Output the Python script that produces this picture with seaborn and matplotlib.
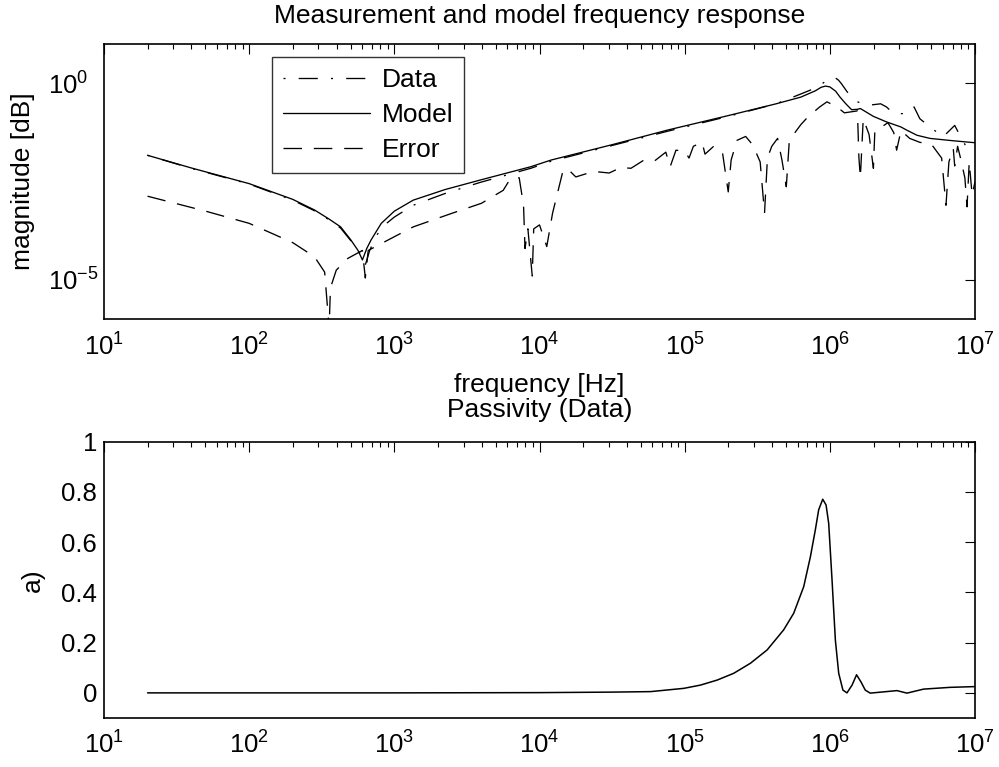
import numpy as np
import pandas as pd
import matplotlib
matplotlib.use("Agg")
import matplotlib.pyplot as plt
import matplotlib.ticker as mticker
import seaborn as sns

# ---------------- data ----------------
# top panel: log10(frequency [Hz]) and log10(magnitude)
model_logf = [1.30, 1.60, 2.00, 2.30, 2.45, 2.55, 2.63, 2.70, 2.75, 2.78, 2.81, 2.84, 2.91, 3.00,
              3.13, 3.35, 3.59, 3.94, 4.08, 4.50, 4.88, 5.30, 5.63, 5.80, 5.90, 5.94, 5.97, 6.00,
              6.04, 6.07, 6.11, 6.15, 6.19, 6.21, 6.30, 6.39, 6.49, 6.53, 6.60, 6.69, 6.85, 7.00]
model_logm = [-1.83, -2.15, -2.55, -2.95, -3.22, -3.45, -3.65, -3.98, -4.25, -4.49, -4.20, -3.98, -3.56, -3.25,
              -2.97, -2.70, -2.46, -2.12, -1.95, -1.56, -1.19, -0.82, -0.52, -0.35, -0.19, -0.10, -0.07, -0.09,
              -0.20, -0.35, -0.52, -0.67, -0.66, -0.64, -0.84, -0.98, -1.11, -1.19, -1.32, -1.40, -1.46, -1.51]

data_logf = [1.30, 1.60, 2.00, 2.30, 2.45, 2.55, 2.63, 2.70, 2.76, 2.80, 2.83, 2.88, 2.95, 3.00,
             3.13, 3.35, 3.59, 3.94, 4.08, 4.50, 4.88, 5.30, 5.63, 5.80, 5.90, 5.95, 6.00, 6.03,
             6.06, 6.08, 6.12, 6.19, 6.26, 6.35, 6.39, 6.44, 6.53, 6.58, 6.62, 6.69, 6.78, 6.86,
             6.89, 6.94, 7.00]
data_logm = [-1.83, -2.16, -2.56, -2.97, -3.24, -3.47, -3.68, -4.00, -4.30, -4.62, -4.25, -3.85, -3.55, -3.40,
             -3.10, -2.80, -2.52, -2.16, -1.98, -1.58, -1.22, -0.84, -0.52, -0.27, -0.12, 0.00, 0.12, 0.16,
             0.08, -0.01, -0.22, -0.47, -0.56, -0.52, -0.60, -0.77, -0.77, -0.60, -0.90, -1.11, -1.36, -1.07,
             -1.28, -1.62, -1.57]

error_logf = [1.30, 1.70, 2.00, 2.30, 2.45, 2.52, 2.545, 2.55, 2.56, 2.60, 2.68, 2.78, 2.80, 2.82,
              3.00, 3.13, 3.40, 3.60, 3.75, 3.80, 3.86, 3.89, 3.90, 3.92, 3.95, 3.96, 4.00, 4.05,
              4.09, 4.13, 4.16, 4.19, 4.25, 4.32, 4.40, 4.48, 4.56, 4.63, 4.72, 4.79, 4.87, 4.90,
              4.94, 5.00, 5.03, 5.06, 5.12, 5.14, 5.20, 5.26, 5.30, 5.32, 5.36, 5.42, 5.47, 5.52,
              5.55, 5.57, 5.60, 5.64, 5.67, 5.70, 5.72, 5.76, 5.80, 5.85, 5.93, 5.98, 6.05, 6.10,
              6.19, 6.20, 6.21, 6.23, 6.27, 6.30, 6.31, 6.36, 6.40, 6.44, 6.46, 6.49, 6.55, 6.62,
              6.70, 6.77, 6.80, 6.82, 6.85, 6.86, 6.88, 6.90, 6.93, 6.945, 6.96, 6.98, 7.00]
error_logm = [-2.87, -3.25, -3.56, -4.05, -4.41, -4.80, -5.95, -6.30, -5.20, -4.75, -4.45, -4.25, -4.95, -4.25,
              -3.90, -3.65, -3.30, -3.05, -2.72, -2.42, -2.40, -3.10, -4.20, -3.70, -4.90, -3.70, -3.60, -4.15,
              -3.30, -2.70, -2.25, -2.16, -2.38, -2.30, -2.25, -2.28, -2.14, -2.16, -1.95, -1.98, -1.75, -2.12,
              -1.70, -1.72, -1.90, -1.60, -1.50, -1.80, -1.60, -1.75, -2.76, -1.95, -1.45, -1.35, -1.57, -2.00,
              -3.30, -1.90, -1.60, -1.40, -1.95, -2.63, -1.50, -1.25, -1.05, -0.85, -0.60, -0.47, -0.60, -0.75,
              -0.70, -1.88, -2.40, -0.90, -1.30, -2.16, -1.20, -1.10, -1.00, -1.25, -1.70, -1.20, -1.40, -1.50,
              -1.55, -1.90, -3.10, -2.00, -1.65, -2.10, -1.60, -1.90, -2.40, -3.14, -2.00, -2.84, -2.50]

# bottom panel: passivity, log10(frequency) and value
pass_logf = [1.30, 3.00, 4.00, 4.50, 4.765, 4.994, 5.109, 5.224, 5.338, 5.453, 5.568, 5.682, 5.751,
             5.820, 5.866, 5.900, 5.923, 5.951, 5.974, 5.992, 6.015, 6.038, 6.061, 6.090, 6.118, 6.153,
             6.184, 6.214, 6.244, 6.278, 6.462, 6.531, 6.646, 6.829, 7.00]
pass_val = [0.0, 0.0, 0.001, 0.003, 0.005, 0.018, 0.031, 0.051, 0.078, 0.118, 0.171, 0.251, 0.317,
            0.423, 0.542, 0.649, 0.729, 0.771, 0.748, 0.675, 0.45, 0.21, 0.078, 0.011, 0.0, 0.031,
            0.072, 0.044, 0.011, -0.001, 0.009, -0.001, 0.015, 0.022, 0.025]

legend_labels = ["Data", "Model", "Error"]
xtick_exps = [1, 2, 3, 4, 5, 6, 7]
ytick_exps_top = [-5, 0]
yticks_bottom = [0, 0.2, 0.4, 0.6, 0.8, 1]

# ---------------- style ----------------
sns.set_theme(style="white")
FONT = ["Liberation Sans", "DejaVu Sans"]
plt.rcParams["font.family"] = FONT
plt.rcParams["mathtext.default"] = "regular"
plt.rcParams["text.color"] = "black"
plt.rcParams["axes.labelcolor"] = "black"
plt.rcParams["xtick.color"] = "black"
plt.rcParams["ytick.color"] = "black"
FS = 19
TFS = 18.5

fig = plt.figure(figsize=(9.99, 7.67), dpi=100)
fig.patch.set_facecolor("white")

ax1 = fig.add_axes([0.1041, 0.5837, 0.8719, 0.3589])
ax2 = fig.add_axes([0.1041, 0.0639, 0.8719, 0.3602])

lw = 0.95
dashdot = (0, (1.5, 10, 14.5, 10))
dashed = (0, (14, 9))

top_df = pd.DataFrame({
    "f": np.concatenate([10.0 ** np.array(data_logf), 10.0 ** np.array(model_logf), 10.0 ** np.array(error_logf)]),
    "m": np.concatenate([10.0 ** np.array(data_logm), 10.0 ** np.array(model_logm), 10.0 ** np.array(error_logm)]),
    "s": ["Data"] * len(data_logf) + ["Model"] * len(model_logf) + ["Error"] * len(error_logf),
})

ax1.set_xscale("log")
ax1.set_yscale("log")
styles = {"Data": dashdot, "Model": "-", "Error": dashed}
for name in legend_labels:
    sub = top_df[top_df["s"] == name]
    sns.lineplot(data=sub, x="f", y="m", ax=ax1, color="black", linewidth=lw,
                 linestyle=styles[name], estimator=None, sort=False, label=name)

exp_fmt = mticker.FuncFormatter(lambda v, p: r"$10^{%d}$" % round(np.log10(v)))

ax1.set_xlim(10, 1e7)
ax1.set_ylim(1e-6, 1e1)
ax1.xaxis.set_major_locator(mticker.FixedLocator([10.0 ** e for e in xtick_exps]))
ax1.xaxis.set_minor_locator(mticker.LogLocator(base=10, subs=np.arange(2, 10), numticks=20))
ax1.xaxis.set_minor_formatter(mticker.NullFormatter())
ax1.yaxis.set_major_locator(mticker.FixedLocator([10.0 ** e for e in ytick_exps_top]))
ax1.yaxis.set_minor_locator(mticker.NullLocator())
ax1.xaxis.set_major_formatter(exp_fmt)
ax1.yaxis.set_major_formatter(exp_fmt)
ax1.set_xlabel("frequency [Hz]", fontsize=FS, labelpad=9)
ax1.set_ylabel("magnitude [dB]", fontsize=FS, labelpad=10)
ax1.set_title("Measurement and model frequency response", fontsize=FS, pad=15)

leg = ax1.legend(loc="upper left", bbox_to_anchor=(0.1924, 0.9517), borderaxespad=0,
                 fontsize=FS, frameon=True, fancybox=False, handlelength=3.3,
                 handletextpad=0.45, labelspacing=0.41, borderpad=0.42)
leg.get_frame().set_edgecolor("black")
leg.get_frame().set_linewidth(1.0)
for h in leg.get_lines():
    h.set_linewidth(lw)

# bottom panel
ax2.set_xscale("log")
pass_df = pd.DataFrame({"f": 10.0 ** np.array(pass_logf), "a": pass_val})
sns.lineplot(data=pass_df, x="f", y="a", ax=ax2, color="black", linewidth=1.1,
             estimator=None, sort=False)
ax2.set_xlim(10, 1e7)
ax2.set_ylim(-0.1, 1)
ax2.xaxis.set_major_locator(mticker.FixedLocator([10.0 ** e for e in xtick_exps]))
ax2.xaxis.set_minor_locator(mticker.LogLocator(base=10, subs=np.arange(2, 10), numticks=20))
ax2.xaxis.set_minor_formatter(mticker.NullFormatter())
ax2.xaxis.set_major_formatter(exp_fmt)
ax2.yaxis.set_major_locator(mticker.FixedLocator(yticks_bottom))
ax2.yaxis.set_major_formatter(mticker.FuncFormatter(lambda v, p: ("%g" % v)))
ax2.set_xlabel("")
ax2.set_ylabel("a)", fontsize=FS, labelpad=12)
ax2.set_title("Passivity (Data)", fontsize=FS, pad=18)

for ax in (ax1, ax2):
    for sp in ax.spines.values():
        sp.set_visible(True)
        sp.set_color("black")
        sp.set_linewidth(1.2)
    ax.tick_params(which="major", direction="in", length=7, width=0.8, top=True, right=True,
                   labelsize=TFS, colors="black")
    ax.tick_params(which="minor", direction="in", length=3.5, width=0.8, top=True, right=True)
    ax.tick_params(axis="x", which="major", pad=10)
    ax.set_facecolor("white")
    ax.grid(False)

ax2.tick_params(axis="y", which="major", pad=5)
# MATLAB-style: exponent labels left-aligned on the mantissa
ax1.tick_params(axis="y", which="major", pad=40)
for lab in ax1.get_yticklabels():
    lab.set_horizontalalignment("left")

fig.savefig("out.png", dpi=100, facecolor="white")
